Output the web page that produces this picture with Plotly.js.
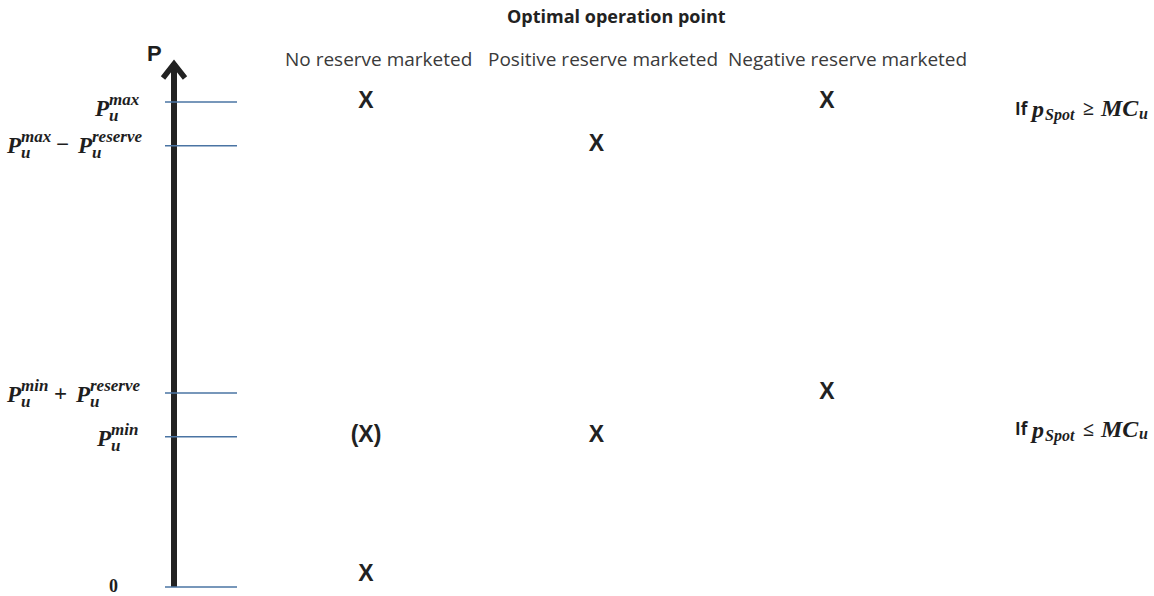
<!DOCTYPE html>
<html>
<head>
<meta charset="utf-8">
<script src="https://cdn.plot.ly/plotly-3.0.1.min.js"></script>
<style>html,body{margin:0;padding:0;background:#fff;}#chart{width:1154px;height:596px;}</style>
</head>
<body>
<div id="chart"></div>
<script>
// ---------------- data ----------------
const levelNames = ['P_u^max', 'P_u^max - P_u^reserve', 'P_u^min + P_u^reserve', 'P_u^min', '0'];
const levelValues = [100, 91, 40, 31, 0];
const columns = ['No reserve marketed', 'Positive reserve marketed', 'Negative reserve marketed'];
const pointColumn = ['No reserve marketed', 'No reserve marketed', 'No reserve marketed',
                     'Positive reserve marketed', 'Positive reserve marketed',
                     'Negative reserve marketed', 'Negative reserve marketed'];
const pointLevel = [100, 31, 0, 91, 31, 100, 40];
const pointText = ['X', '(X)', 'X', 'X', 'X', 'X', 'X'];
const conditionSigns = ['≥', '≤'];
const conditionLevel = [100, 31];
const titleText = 'Optimal operation point';
const axisLabel = 'P';

// ---------------- layout helpers ----------------
const W = 1154, H = 596;
const px = x => x / W;          // pixel -> paper x
const py = y => 1 - y / H;      // pixel -> paper y
const mathFont = 'Liberation Serif';
const ink = '#1e1e1e';
const lineBlue = '#4a74a3';

function piece(text, left, yVal, yshift, size, opts) {
  opts = opts || {};
  return {
    text: text, xref: 'paper', x: px(left - 2), xanchor: 'left',
    yref: 'y', y: yVal, yanchor: 'middle', yshift: yshift,
    showarrow: false, borderpad: 0,
    font: {family: opts.family || mathFont, size: size, color: opts.color || ink}
  };
}
const bi = s => '<b><i>' + s + '</i></b>';

const PS = 23, SS = 17;
function term(left, yVal, base, sup) {
  return [
    piece(bi('P'), left, yVal, base, PS),
    piece(bi(sup), left + 15, yVal, base + 9, SS),
    piece(bi('u'), left + 15, yVal, base - 7, SS)
  ];
}

const annotations = [];
// level labels
annotations.push(...term(95, levelValues[0], -6, 'max'));
annotations.push(...term(7, levelValues[1], 0, 'max'));
annotations.push(piece('<b>−</b>', 57, levelValues[1], 1, PS));
annotations.push(...term(78, levelValues[1], 0, 'reserve'));
annotations.push(...term(7, levelValues[2], -1, 'min'));
annotations.push(piece('<b>+</b>', 55, levelValues[2], 0, PS));
annotations.push(...term(76, levelValues[2], -1, 'reserve'));
annotations.push(...term(97, levelValues[3], -1.5, 'min'));
annotations.push(piece('<b>0</b>', 110, levelValues[4], 1, 18));

// conditions on the right
const condShift = [-6, 8];
conditionSigns.forEach((s, i) => {
  const v = conditionLevel[i], b = condShift[i];
  annotations.push(piece('<b>If</b>', 1016, v, b, 17, {family: 'Open Sans'}));
  annotations.push(piece(bi('p'), 1031, v, b - 1, 24));
  annotations.push(piece(bi('Spot'), 1046, v, b - 7, 16));
  annotations.push(piece('<b>' + s + '</b>', 1084, v, b, 20));
  annotations.push(piece(bi('MC'), 1101, v, b, 24));
  annotations.push(piece(bi('u'), 1140, v, b - 5, 16));
});

// title & column headers
annotations.push({text: '<b>' + titleText + '</b>', xref: 'paper', yref: 'paper',
  x: px(616), y: py(16), xanchor: 'center', yanchor: 'middle', showarrow: false,
  font: {family: 'Open Sans', size: 18, color: '#222'}});
const headerShift = [12, 6.5, 21];
columns.forEach((c, i) => {
  annotations.push({text: c, xref: 'x', yref: 'paper', x: c, xshift: headerShift[i],
    y: py(59), xanchor: 'center', yanchor: 'middle', showarrow: false,
    font: {family: 'Open Sans', size: 19, color: '#3a3a3a'}});
});
// axis letter
annotations.push({text: '<b>' + axisLabel + '</b>', xref: 'paper', yref: 'paper',
  x: px(154), y: py(53), xanchor: 'center', yanchor: 'middle', showarrow: false,
  font: {family: 'Liberation Sans', size: 22, color: ink}});

// shapes: arrow shaft, head, level lines
const shapes = [];
shapes.push({type: 'line', xref: 'paper', yref: 'y', x0: px(174), x1: px(174),
  y0: levelValues[4], y1: 108.0, line: {color: '#222', width: 6}});
shapes.push({type: 'path', xref: 'paper', yref: 'paper',
  path: `M ${px(163)} ${py(78)} L ${px(174)} ${py(64)} L ${px(185)} ${py(78)}`,
  line: {color: '#222', width: 5.5}});
levelValues.forEach(v => {
  shapes.push({type: 'line', xref: 'paper', yref: 'y', x0: px(165), x1: px(237),
    y0: v, y1: v, line: {color: lineBlue, width: 1.5}});
});

const trace = {
  type: 'scatter', mode: 'text',
  x: pointColumn, y: pointLevel, text: pointText,
  textposition: pointLevel.map(v => v === 0 ? 'top center' : 'middle center'),
  textfont: {family: 'Liberation Sans', size: 23, color: '#222', weight: 'bold'},
  hoverinfo: 'skip', showlegend: false, cliponaxis: false
};

const layout = {
  width: W, height: H,
  margin: {l: 0, r: 0, t: 0, b: 0, pad: 0},
  paper_bgcolor: '#fff', plot_bgcolor: '#fff',
  xaxis: {type: 'category', categoryorder: 'array', categoryarray: columns,
    range: [-1.588, 3.419], visible: false, fixedrange: true},
  yaxis: {range: [-1.856, 121.03], visible: false, fixedrange: true},
  shapes: shapes, annotations: annotations, showlegend: false
};

Plotly.newPlot('chart', [trace], layout, {staticPlot: true, displayModeBar: false});
</script>
</body>
</html>
